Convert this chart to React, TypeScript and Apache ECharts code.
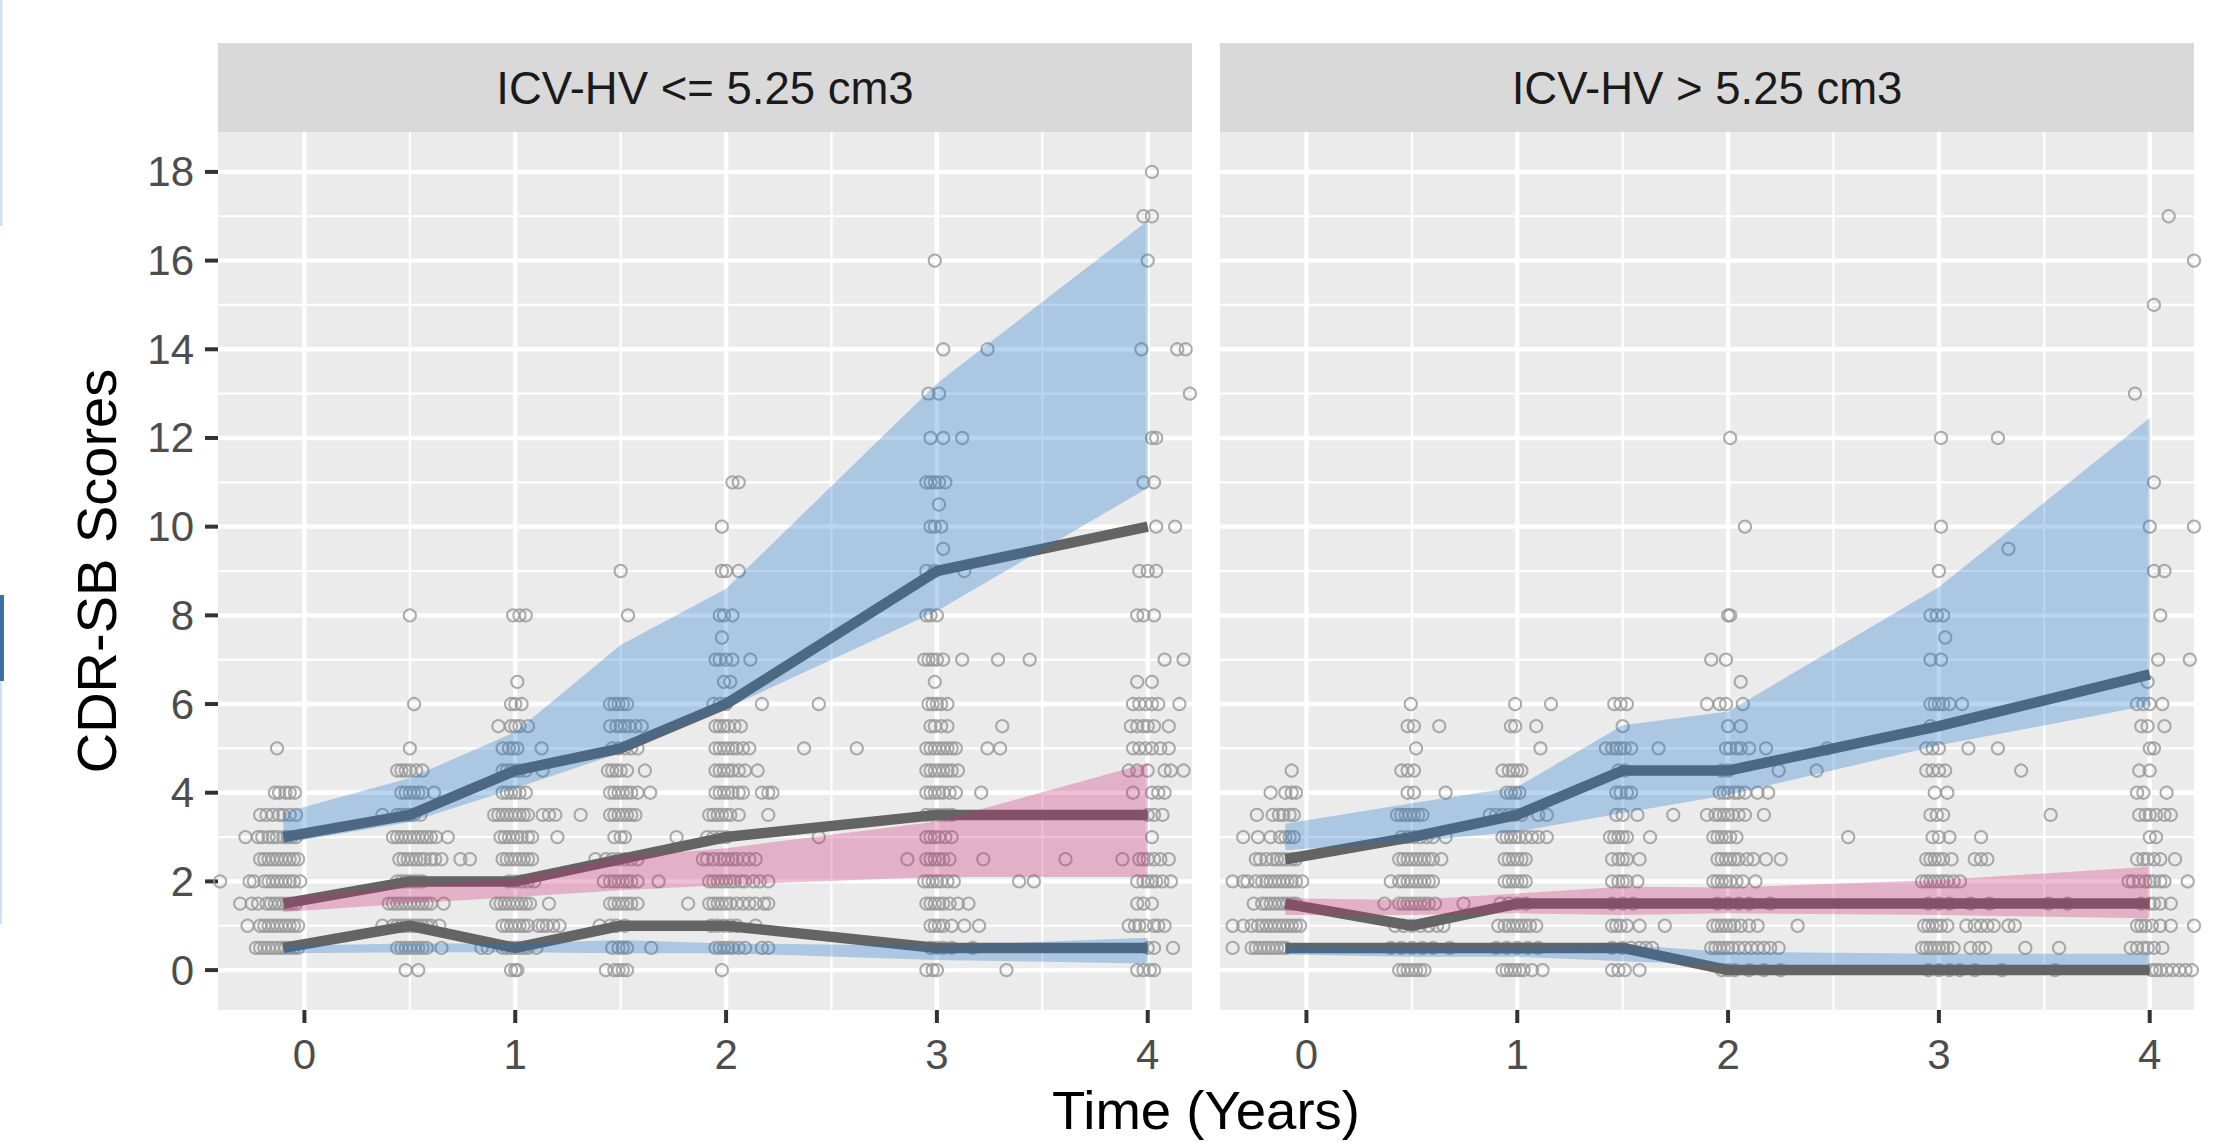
import React, { useEffect, useRef } from 'react';
import * as echarts from 'echarts';

const W = 2219;
const H = 1142;
const FONT = '"Liberation Sans", Arial, Helvetica, sans-serif';

// ---------- axes ----------
const X_MIN = -0.41;
const X_MAX = 4.21;
const Y_MIN = -0.9;
const Y_MAX = 18.9;
const X_TICKS = [0, 1, 2, 3, 4];
const X_MINOR = [0.5, 1.5, 2.5, 3.5];
const Y_TICKS = [0, 2, 4, 6, 8, 10, 12, 14, 16, 18];
const Y_MINOR = [1, 3, 5, 7, 9, 11, 13, 15, 17];

const PANEL_TITLES = ['ICV-HV <= 5.25 cm3', 'ICV-HV > 5.25 cm3'];
const X_TITLE = 'Time (Years)';
const Y_TITLE = 'CDR-SB Scores';

// ---------- median lines & ribbons ----------
const VISIT_X = [-0.1, 0.5, 1, 1.5, 2, 3, 4];

const L_HIGH_MED = [3, 3.5, 4.5, 5, 6, 9, 10];
const L_HIGH_LO = [2.86, 3.34, 4.1, 4.9, 5.9, 8.1, 10.87];
const L_HIGH_HI = [3.55, 4.33, 5.37, 7.33, 8.6, 13.23, 16.9];
const L_MID_MED = [1.5, 2, 2, 2.5, 3, 3.5, 3.5];
const L_MID_LO = [1.31, 1.5, 1.65, 1.8, 1.92, 2.1, 2.1];
const L_MID_HI = [1.62, 1.92, 2.05, 2.55, 2.75, 3.35, 4.67];
const L_LOW_MED = [0.5, 1, 0.5, 1, 1, 0.5, 0.5];
const L_LOW_LO = [0.38, 0.4, 0.4, 0.38, 0.38, 0.23, 0.15];
const L_LOW_HI = [0.55, 0.6, 0.6, 0.68, 0.6, 0.55, 0.73];

const R_HIGH_MED = [2.5, 3, 3.5, 4.5, 4.5, 5.5, 6.67];
const R_HIGH_LO = [2.7, 2.9, 3.12, 3.54, 3.95, 5.07, 5.97];
const R_HIGH_HI = [3.3, 3.76, 4.13, 5.52, 5.83, 8.64, 12.45];
const R_MID_MED = [1.5, 1, 1.5, 1.5, 1.5, 1.5, 1.5];
const R_MID_LO = [1.24, 1.24, 1.28, 1.24, 1.28, 1.24, 1.17];
const R_MID_HI = [1.62, 1.58, 1.73, 1.88, 1.86, 2.03, 2.33];
const R_LOW_MED = [0.5, 0.5, 0.5, 0.5, 0, 0, 0];
const R_LOW_LO = [0.35, 0.3, 0.3, 0.2, 0.11, 0.11, 0.11];
const R_LOW_HI = [0.55, 0.52, 0.52, 0.57, 0.41, 0.37, 0.37];

// ---------- observed scores: [score, [jittered times...]] ----------
type Row = [number, number[]];

const L_PTS: Row[] = [
  // baseline
  [5, [-0.13]],
  [4, [-0.14, -0.12, -0.09, -0.07, -0.045]],
  [3.5, [-0.21, -0.18, -0.15, -0.12, -0.1, -0.07, -0.04]],
  [3, [-0.28, -0.22, -0.2, -0.17, -0.15, -0.13, -0.1, -0.08, -0.06, -0.04]],
  [2.5, [-0.21, -0.19, -0.17, -0.15, -0.13, -0.11, -0.09, -0.07, -0.05, -0.03]],
  [2, [-0.4, -0.26, -0.24, -0.19, -0.17, -0.15, -0.13, -0.11, -0.09, -0.07, -0.05, -0.02]],
  [1.5, [-0.305, -0.25, -0.22, -0.18, -0.16, -0.14, -0.12, -0.1, -0.08, -0.06, -0.04]],
  [1, [-0.27, -0.21, -0.19, -0.17, -0.15, -0.13, -0.11, -0.09, -0.07, -0.05, -0.03]],
  [0.5, [-0.23, -0.21, -0.19, -0.17, -0.15, -0.13, -0.11, -0.09, -0.07, -0.05, -0.03]],
  // 6 months
  [8, [0.5]],
  [6, [0.52]],
  [5, [0.5]],
  [4.5, [0.44, 0.46, 0.48, 0.5, 0.53, 0.56]],
  [4, [0.46, 0.48, 0.5, 0.52, 0.54, 0.56, 0.615]],
  [3.5, [0.37, 0.44, 0.46, 0.48, 0.5, 0.52, 0.55]],
  [3, [0.42, 0.44, 0.46, 0.48, 0.5, 0.52, 0.54, 0.56, 0.58, 0.6, 0.625, 0.68]],
  [2.5, [0.45, 0.47, 0.49, 0.51, 0.53, 0.55, 0.57, 0.6, 0.62, 0.65, 0.74, 0.785]],
  [2, [0.44, 0.46, 0.48, 0.5, 0.52, 0.54, 0.56]],
  [1.5, [0.4, 0.42, 0.44, 0.46, 0.48, 0.5, 0.52, 0.54, 0.56, 0.58, 0.6, 0.66]],
  [1, [0.37, 0.42, 0.44, 0.46, 0.48, 0.5, 0.52, 0.54, 0.56, 0.58, 0.6, 0.64]],
  [0.5, [0.44, 0.46, 0.48, 0.5, 0.52, 0.54, 0.56, 0.58, 0.65]],
  [0, [0.48, 0.54]],
  // 1 year
  [8, [0.99, 1.02, 1.05]],
  [6.5, [1.01]],
  [6, [0.98, 1.0, 1.03]],
  [5.5, [0.92, 0.98, 1.0, 1.02, 1.06]],
  [5, [0.94, 0.97, 0.99, 1.01, 1.125]],
  [4.5, [0.94, 0.96, 0.98, 1.0, 1.02, 1.05, 1.13]],
  [4, [0.94, 0.96, 0.98, 1.0, 1.02, 1.05]],
  [3.5, [0.9, 0.92, 0.94, 0.96, 0.98, 1.0, 1.02, 1.04, 1.06, 1.13, 1.16, 1.19, 1.31]],
  [3, [0.93, 0.95, 0.97, 0.99, 1.01, 1.03, 1.06, 1.08, 1.2]],
  [2.5, [0.94, 0.96, 0.98, 1.0, 1.02, 1.04, 1.06, 1.08]],
  [2, [0.97, 1.0, 1.03, 1.06, 1.09]],
  [1.5, [0.91, 0.93, 0.95, 0.97, 0.99, 1.01, 1.03, 1.05, 1.07, 1.16]],
  [1, [0.94, 0.96, 0.98, 1.0, 1.02, 1.04, 1.06, 1.11, 1.13, 1.15, 1.18, 1.21]],
  [0.5, [0.84, 0.87, 0.94, 0.96, 0.98, 1.0, 1.02, 1.04, 1.06, 1.1]],
  [0, [0.98, 1.0, 1.01]],
  // 18 months
  [9, [1.5]],
  [8, [1.535]],
  [6, [1.45, 1.47, 1.49, 1.51, 1.53]],
  [5.5, [1.45, 1.48, 1.5, 1.52, 1.54, 1.57, 1.6]],
  [5, [1.46, 1.49, 1.52, 1.55, 1.58]],
  [4.5, [1.44, 1.46, 1.48, 1.5, 1.53, 1.615]],
  [4, [1.45, 1.47, 1.49, 1.51, 1.53, 1.55, 1.58, 1.64]],
  [3.5, [1.45, 1.47, 1.49, 1.51, 1.53, 1.55, 1.57]],
  [3, [1.47, 1.5, 1.52, 1.765]],
  [2.5, [1.38, 1.43, 1.46, 1.49, 1.52, 1.55, 1.58]],
  [2, [1.42, 1.45, 1.47, 1.49, 1.51, 1.53, 1.55, 1.58, 1.68]],
  [1.5, [1.45, 1.47, 1.49, 1.51, 1.53, 1.55, 1.58, 1.82]],
  [1, [1.4, 1.45, 1.48, 1.52]],
  [0.5, [1.46, 1.49, 1.51, 1.53, 1.645]],
  [0, [1.43, 1.47, 1.49, 1.51, 1.53]],
  // 2 years
  [11, [2.03, 2.06]],
  [10, [1.98]],
  [9, [1.98, 2.0, 2.06]],
  [8, [1.97, 1.99, 2.03]],
  [7.5, [1.98]],
  [7, [1.95, 1.97, 2.0, 2.03, 2.115]],
  [6.5, [1.99, 2.02]],
  [6, [1.94, 1.97, 2.0, 2.17, 2.44]],
  [5.5, [1.95, 1.97, 1.99, 2.01, 2.04, 2.07]],
  [5, [1.95, 1.97, 1.99, 2.01, 2.03, 2.05, 2.08, 2.11, 2.37, 2.62]],
  [4.5, [1.95, 1.97, 1.99, 2.01, 2.03, 2.06, 2.09, 2.15]],
  [4, [1.95, 1.97, 1.99, 2.01, 2.03, 2.06, 2.08, 2.17, 2.2, 2.22]],
  [3.5, [1.92, 1.94, 1.96, 1.98, 2.0, 2.02, 2.06, 2.2]],
  [3, [1.91, 1.94, 1.97, 2.0, 2.44]],
  [2.5, [1.89, 1.91, 1.94, 1.97, 1.99, 2.01, 2.03, 2.05, 2.08, 2.11, 2.14]],
  [2, [1.92, 1.94, 1.96, 1.98, 2.0, 2.02, 2.04, 2.07, 2.09, 2.13, 2.16, 2.2]],
  [1.5, [1.92, 1.94, 1.96, 1.98, 2.0, 2.02, 2.05, 2.08, 2.11, 2.14, 2.18, 2.2]],
  [1, [1.93, 1.96, 1.99, 2.02, 2.05, 2.14]],
  [0.5, [1.95, 1.97, 1.99, 2.01, 2.03, 2.06, 2.09, 2.17, 2.2]],
  [0, [1.98]],
  // 3 years
  [16, [2.99]],
  [14, [3.03, 3.24]],
  [13, [2.96, 3.01]],
  [12, [2.97, 3.03, 3.12]],
  [11, [2.95, 2.97, 2.99, 3.01, 3.04]],
  [10.5, [3.01]],
  [10, [2.97, 2.99, 3.02]],
  [9.5, [3.03]],
  [9, [2.95, 2.99, 3.13]],
  [8, [2.95, 2.97, 3.0]],
  [7, [2.94, 2.96, 2.98, 3.0, 3.03, 3.12, 3.29, 3.44]],
  [6.5, [2.99]],
  [6, [2.96, 2.98, 3.0, 3.02, 3.05]],
  [5.5, [2.97, 2.99, 3.02, 3.05, 3.31]],
  [5, [2.95, 2.97, 2.99, 3.01, 3.03, 3.05, 3.07, 3.09, 3.24, 3.3]],
  [4.5, [2.95, 2.97, 2.99, 3.01, 3.03, 3.05, 3.07, 3.1]],
  [4, [2.95, 2.97, 2.99, 3.01, 3.03, 3.06, 3.09, 3.21]],
  [3.5, [2.95, 2.98, 3.01, 3.04, 3.07]],
  [3, [2.95, 2.97, 2.99, 3.01, 3.04, 3.07]],
  [2.5, [2.86, 2.95, 2.97, 2.99, 3.01, 3.03, 3.06, 3.22, 3.61, 3.88]],
  [2, [2.94, 2.96, 2.98, 3.0, 3.02, 3.05, 3.08, 3.39, 3.46]],
  [1.5, [2.95, 2.97, 2.99, 3.01, 3.03, 3.06, 3.1, 3.15]],
  [1, [2.97, 2.99, 3.01, 3.03, 3.07, 3.13, 3.2]],
  [0.5, [2.97, 3.0, 3.03, 3.07, 3.17]],
  [0, [2.95, 2.98, 3.0, 3.33]],
  // 4 years
  [18, [4.02]],
  [17, [3.98, 4.02]],
  [16, [4.0]],
  [14, [3.97, 4.14, 4.18]],
  [13, [4.2]],
  [12, [4.02, 4.04]],
  [11, [3.98, 4.03]],
  [10, [4.04, 4.13]],
  [9, [3.96, 4.0, 4.04]],
  [8, [3.95, 3.98, 4.03]],
  [7, [4.08, 4.17]],
  [6.5, [3.95, 4.02]],
  [6, [3.93, 3.96, 3.99, 4.02, 4.05, 4.15]],
  [5.5, [3.92, 3.95, 3.98, 4.0, 4.03, 4.1]],
  [5, [3.93, 3.96, 3.99, 4.02, 4.06, 4.1]],
  [4.5, [3.91, 3.95, 4.0, 4.08, 4.11, 4.17]],
  [4, [3.93, 4.02, 4.05, 4.08]],
  [3.5, [4.0, 4.03, 4.07]],
  [3, [4.02]],
  [2.5, [3.96, 3.98, 4.0, 4.03, 4.06, 4.1]],
  [2, [3.95, 3.98, 4.0, 4.02, 4.04, 4.07, 4.11]],
  [1.5, [3.95, 3.98, 4.02]],
  [1, [3.91, 3.94, 3.96, 3.99, 4.03, 4.05, 4.08]],
  [0.5, [4.0, 4.03, 4.12]],
  [0, [3.95, 3.98, 4.01, 4.03]],
];

const R_PTS: Row[] = [
  // baseline
  [4.5, [-0.07]],
  [4, [-0.17, -0.1, -0.07, -0.05]],
  [3.5, [-0.235, -0.16, -0.13, -0.11, -0.08, -0.06]],
  [3, [-0.3, -0.23, -0.17, -0.125, -0.1, -0.08, -0.06]],
  [2.5, [-0.24, -0.22, -0.19, -0.16, -0.14, -0.12, -0.1, -0.07, -0.05]],
  [2, [-0.35, -0.3, -0.28, -0.24, -0.21, -0.19, -0.17, -0.15, -0.13, -0.11, -0.09, -0.07, -0.05, -0.02]],
  [1.5, [-0.25, -0.21, -0.19, -0.17, -0.15, -0.13, -0.11, -0.09, -0.07, -0.05]],
  [1, [-0.35, -0.3, -0.26, -0.23, -0.21, -0.19, -0.17, -0.15, -0.13, -0.11, -0.09, -0.07, -0.05, -0.03]],
  [0.5, [-0.35, -0.26, -0.24, -0.22, -0.2, -0.18, -0.16, -0.14, -0.12, -0.1]],
  // 6 months
  [6, [0.495]],
  [5.5, [0.48, 0.51, 0.63]],
  [5, [0.52]],
  [4.5, [0.45, 0.48, 0.51]],
  [4, [0.48, 0.51, 0.66]],
  [3.5, [0.43, 0.45, 0.47, 0.49, 0.51, 0.53, 0.55]],
  [3, [0.45, 0.48, 0.51, 0.54, 0.57, 0.6, 0.66]],
  [2.5, [0.44, 0.46, 0.48, 0.5, 0.52, 0.54, 0.56, 0.58, 0.6, 0.64]],
  [2, [0.4, 0.44, 0.46, 0.48, 0.5, 0.52, 0.54, 0.56, 0.58, 0.6]],
  [1.5, [0.37, 0.44, 0.46, 0.48, 0.5, 0.52, 0.54, 0.56, 0.58, 0.61, 0.745]],
  [1, [0.42, 0.46, 0.5, 0.54, 0.58, 0.62, 0.65]],
  [0.5, [0.4, 0.45, 0.5, 0.55, 0.6, 0.68]],
  [0, [0.44, 0.46, 0.48, 0.5, 0.52, 0.54, 0.56]],
  // 1 year
  [6, [0.99, 1.16]],
  [5.5, [0.97, 0.99, 1.09]],
  [5, [1.11]],
  [4.5, [0.93, 0.96, 0.98, 1.0, 1.02]],
  [4, [0.95, 0.97, 0.99, 1.01]],
  [3.5, [0.87, 0.9, 0.93, 0.96, 0.99, 1.02, 1.1, 1.14]],
  [3, [0.93, 0.95, 0.97, 0.99, 1.01, 1.04, 1.07, 1.1, 1.14]],
  [2.5, [0.94, 0.96, 0.98, 1.0, 1.02, 1.04]],
  [2, [0.94, 0.96, 0.98, 1.0, 1.02, 1.04]],
  [1.5, [0.92, 0.96, 1.0, 1.04]],
  [1, [0.91, 0.94, 0.96, 0.98, 1.0, 1.02, 1.04, 1.06, 1.09]],
  [0.5, [0.9, 0.95, 1.0, 1.05, 1.1]],
  [0, [0.93, 0.95, 0.97, 0.99, 1.01, 1.03, 1.07, 1.12]],
  // 18 months
  [6, [1.46, 1.49, 1.52]],
  [5.5, [1.5]],
  [5, [1.42, 1.45, 1.47, 1.49, 1.51, 1.54, 1.67]],
  [4.5, [1.48, 1.51]],
  [4, [1.47, 1.49, 1.52, 1.54]],
  [3.5, [1.47, 1.5, 1.57, 1.74]],
  [3, [1.44, 1.46, 1.48, 1.5, 1.52, 1.63]],
  [2.5, [1.45, 1.48, 1.5, 1.52, 1.58]],
  [2, [1.45, 1.48, 1.5, 1.52, 1.57]],
  [1.5, [1.45, 1.5, 1.55]],
  [1, [1.45, 1.47, 1.49, 1.52, 1.58, 1.7]],
  [0.5, [1.45, 1.5, 1.54, 1.58, 1.61, 1.64]],
  [0, [1.45, 1.48, 1.51, 1.58]],
  // 2 years
  [12, [2.01]],
  [10, [2.08]],
  [8, [2.0, 2.01]],
  [7, [1.92, 1.99]],
  [6.5, [2.06]],
  [6, [1.9, 1.96, 1.99, 2.07]],
  [5.5, [2.0, 2.06]],
  [5, [1.99, 2.01, 2.04, 2.06, 2.1, 2.18, 2.47]],
  [4.5, [1.97, 2.0, 2.24, 2.42]],
  [4, [1.96, 1.98, 2.0, 2.03, 2.05, 2.08, 2.14, 2.19]],
  [3.5, [1.9, 1.94, 1.96, 1.98, 2.0, 2.02, 2.05, 2.08, 2.17]],
  [3, [1.93, 1.95, 1.97, 1.99, 2.01, 2.04, 2.57]],
  [2.5, [1.95, 1.97, 1.99, 2.01, 2.03, 2.05, 2.09, 2.12, 2.18, 2.25]],
  [2, [1.93, 1.95, 1.97, 1.99, 2.01, 2.04, 2.07, 2.13]],
  [1.5, [1.95, 2.0, 2.05, 2.1, 2.2]],
  [1, [1.93, 1.95, 1.97, 1.99, 2.01, 2.03, 2.06, 2.1, 2.14, 2.33]],
  [0.5, [1.92, 1.94, 1.96, 1.98, 2.0, 2.02, 2.05, 2.08, 2.11, 2.14, 2.17, 2.2, 2.24]],
  [0, [1.97, 2.0, 2.03, 2.1, 2.17, 2.25]],
  // 3 years
  [12, [3.01, 3.28]],
  [10, [3.01]],
  [9.5, [3.33]],
  [9, [3.0]],
  [8, [2.96, 2.99, 3.02]],
  [7.5, [3.03]],
  [7, [2.96, 3.01]],
  [6, [2.96, 2.98, 3.0, 3.02, 3.05, 3.11]],
  [5.5, [2.96]],
  [5, [2.94, 2.97, 3.0, 3.14, 3.28]],
  [4.5, [2.94, 2.97, 3.0, 3.03, 3.39]],
  [4, [2.98, 3.04]],
  [3.5, [2.96, 2.99, 3.02, 3.53]],
  [3, [2.97, 3.0, 3.05, 3.2]],
  [2.5, [2.94, 2.96, 2.98, 3.0, 3.02, 3.06, 3.17, 3.2, 3.23]],
  [2, [2.92, 2.94, 2.96, 2.98, 3.0, 3.02, 3.04, 3.07, 3.1]],
  [1.5, [2.95, 3.0, 3.05, 3.15, 3.24, 3.52, 3.61]],
  [1, [2.93, 2.95, 2.97, 2.99, 3.01, 3.04, 3.13, 3.17, 3.2, 3.23, 3.26, 3.33, 3.36]],
  [0.5, [2.92, 2.94, 2.96, 2.98, 3.0, 3.02, 3.04, 3.07, 3.15, 3.19, 3.22, 3.41, 3.57]],
  [0, [2.95, 3.0, 3.05, 3.1, 3.17, 3.3, 3.55]],
  // 4 years
  [17, [4.09]],
  [16, [4.21]],
  [15, [4.02]],
  [13, [3.93]],
  [11, [4.02]],
  [10, [4.0, 4.21]],
  [9, [4.02, 4.07]],
  [8, [4.05]],
  [7, [4.04, 4.19]],
  [6.5, [3.99]],
  [6, [3.94, 3.97, 4.0, 4.06]],
  [5.5, [3.96, 3.99, 4.07]],
  [5, [4.0, 4.02]],
  [4.5, [3.95, 4.0]],
  [4, [3.94, 3.97, 4.08]],
  [3.5, [3.95, 3.98, 4.0, 4.03, 4.07, 4.1]],
  [3, [4.0, 4.03]],
  [2.5, [3.94, 3.97, 3.99, 4.02, 4.05, 4.12]],
  [2, [3.9, 3.92, 3.95, 3.98, 4.0, 4.02, 4.05, 4.07, 4.18]],
  [1.5, [3.96, 4.0, 4.02, 4.05, 4.1]],
  [1, [3.94, 3.96, 3.98, 4.01, 4.05, 4.1, 4.21]],
  [0.5, [3.91, 3.94, 3.97, 3.99, 4.02, 4.06]],
  [0, [4.01, 4.03, 4.05, 4.08, 4.11, 4.14, 4.17, 4.2]],
];

// ---------- styling ----------
const PANEL_BG = '#ebebeb';
const STRIP_BG = '#d9d9d9';
const LINE_COLOR = '#646464';
const POINT_COLOR = '#979797';
const BLUE_FILL = 'rgba(24,116,205,0.3)';
const PINK_FILL = 'rgba(205,40,115,0.3)';

const GRID_TOP = 132;
const GRID_H = 878;
const GRID_W = 974;
const GRID_LEFTS = [218, 1220];
const STRIP_TOP = 43;
const TICK_FONT = 42;

const flatten = (rows: Row[]) =>
  rows.flatMap(([y, xs]) => xs.map((x) => [x, y]));

const gridLineData = [
  ...X_MINOR.map((v) => [0, v, 0]),
  ...Y_MINOR.map((v) => [1, v, 0]),
  ...X_TICKS.map((v) => [0, v, 1]),
  ...Y_TICKS.map((v) => [1, v, 1]),
];

function gridSeries(gi: number) {
  return {
    type: 'custom',
    xAxisIndex: gi,
    yAxisIndex: gi,
    z: 1,
    silent: true,
    clip: false,
    data: gridLineData,
    renderItem: (params: any, api: any) => {
      const kind = api.value(0);
      const v = api.value(1);
      const major = api.value(2);
      const cs = params.coordSys;
      const lw = major ? 4.4 : 2.2;
      if (kind === 0) {
        const px = api.coord([v, Y_MIN])[0];
        return {
          type: 'line',
          shape: { x1: px, y1: cs.y, x2: px, y2: cs.y + cs.height },
          style: { stroke: '#ffffff', lineWidth: lw },
        };
      }
      const py = api.coord([X_MIN, v])[1];
      return {
        type: 'line',
        shape: { x1: cs.x, y1: py, x2: cs.x + cs.width, y2: py },
        style: { stroke: '#ffffff', lineWidth: lw },
      };
    },
  };
}

function tickSeries(gi: number) {
  const data = [
    ...X_TICKS.map((v) => [0, v]),
    ...(gi === 0 ? Y_TICKS.map((v) => [1, v]) : []),
  ];
  return {
    type: 'custom',
    xAxisIndex: gi,
    yAxisIndex: gi,
    z: 1,
    silent: true,
    clip: false,
    data,
    renderItem: (params: any, api: any) => {
      const kind = api.value(0);
      const v = api.value(1);
      const cs = params.coordSys;
      const txtStyle = {
        fill: '#4d4d4d',
        fontSize: TICK_FONT,
        fontFamily: FONT,
      };
      if (kind === 0) {
        const px = api.coord([v, Y_MIN])[0];
        const bottom = cs.y + cs.height;
        return {
          type: 'group',
          children: [
            {
              type: 'line',
              shape: { x1: px, y1: bottom, x2: px, y2: bottom + 13 },
              style: { stroke: '#333333', lineWidth: 4 },
            },
            {
              type: 'text',
              x: px,
              y: bottom + 44,
              style: {
                ...txtStyle,
                text: String(v),
                align: 'center',
                textAlign: 'center',
                verticalAlign: 'middle',
                textVerticalAlign: 'middle',
              },
            },
          ],
        };
      }
      const py = api.coord([X_MIN, v])[1];
      return {
        type: 'group',
        children: [
          {
            type: 'line',
            shape: { x1: cs.x - 13, y1: py, x2: cs.x, y2: py },
            style: { stroke: '#333333', lineWidth: 4 },
          },
          {
            type: 'text',
            x: cs.x - 24,
            y: py,
            style: {
              ...txtStyle,
              text: String(v),
              align: 'right',
              textAlign: 'right',
              verticalAlign: 'middle',
              textVerticalAlign: 'middle',
            },
          },
        ],
      };
    },
  };
}

function lineSeries(gi: number, med: number[]) {
  return {
    type: 'line',
    xAxisIndex: gi,
    yAxisIndex: gi,
    z: 3,
    silent: true,
    symbol: 'none',
    showSymbol: false,
    data: VISIT_X.map((x, i) => [x, med[i]]),
    lineStyle: { color: LINE_COLOR, width: 10.5, cap: 'butt', join: 'round' },
    emphasis: { disabled: true },
  };
}

function ribbonSeries(gi: number, lo: number[], hi: number[], fill: string) {
  return {
    type: 'custom',
    xAxisIndex: gi,
    yAxisIndex: gi,
    z: 4,
    silent: true,
    data: VISIT_X.map((x, i) => [x, lo[i], hi[i]]),
    renderItem: (params: any, api: any) => {
      if (params.dataIndexInside !== 0) return null;
      const n = params.dataInsideLength;
      const top: number[][] = [];
      const bot: number[][] = [];
      for (let i = 0; i < n; i++) {
        const x = api.value(0, i);
        top.push(api.coord([x, api.value(2, i)]));
        bot.push(api.coord([x, api.value(1, i)]));
      }
      return {
        type: 'polygon',
        shape: { points: top.concat(bot.reverse()) },
        style: { fill, stroke: 'none' },
      };
    },
  };
}

function scatterSeries(gi: number, rows: Row[]) {
  return {
    type: 'scatter',
    xAxisIndex: gi,
    yAxisIndex: gi,
    z: 2,
    silent: true,
    symbol: 'circle',
    symbolSize: 12.2,
    data: flatten(rows),
    itemStyle: {
      color: 'rgba(0,0,0,0)',
      borderColor: POINT_COLOR,
      borderWidth: 2,
    },
    emphasis: { disabled: true },
  };
}

export default function App() {
  const ref = useRef<HTMLDivElement>(null);

  useEffect(() => {
    if (!ref.current) return;
    const chart = echarts.init(ref.current, undefined, {
      renderer: 'svg',
      width: W,
      height: H,
    });

    const grids = GRID_LEFTS.map((left) => ({
      left,
      top: GRID_TOP,
      width: GRID_W,
      height: GRID_H,
      show: true,
      backgroundColor: PANEL_BG,
      borderWidth: 0,
    }));

    const xAxes = GRID_LEFTS.map((_, gi) => ({
      gridIndex: gi,
      type: 'value',
      min: X_MIN,
      max: X_MAX,
      show: false,
    }));
    const yAxes = GRID_LEFTS.map((_, gi) => ({
      gridIndex: gi,
      type: 'value',
      min: Y_MIN,
      max: Y_MAX,
      show: false,
    }));

    const panels = [
      {
        pts: L_PTS,
        lines: [L_HIGH_MED, L_MID_MED, L_LOW_MED],
        ribbons: [
          [L_HIGH_LO, L_HIGH_HI, BLUE_FILL],
          [L_MID_LO, L_MID_HI, PINK_FILL],
          [L_LOW_LO, L_LOW_HI, BLUE_FILL],
        ],
      },
      {
        pts: R_PTS,
        lines: [R_HIGH_MED, R_MID_MED, R_LOW_MED],
        ribbons: [
          [R_HIGH_LO, R_HIGH_HI, BLUE_FILL],
          [R_MID_LO, R_MID_HI, PINK_FILL],
          [R_LOW_LO, R_LOW_HI, BLUE_FILL],
        ],
      },
    ];

    const series: any[] = [];
    panels.forEach((p, gi) => {
      series.push(gridSeries(gi));
      series.push(tickSeries(gi));
      series.push(scatterSeries(gi, p.pts));
      p.lines.forEach((m) => series.push(lineSeries(gi, m)));
      p.ribbons.forEach((r) =>
        series.push(ribbonSeries(gi, r[0] as number[], r[1] as number[], r[2] as string))
      );
    });

    const graphics: any[] = [];
    // faint page edge marks at far left
    graphics.push({ type: 'rect', shape: { x: 0, y: 0, width: 2.5, height: 226 }, style: { fill: '#cfe1f2' }, silent: true });
    graphics.push({ type: 'rect', shape: { x: 0, y: 595, width: 4, height: 86 }, style: { fill: '#3d6fa6' }, silent: true });
    graphics.push({ type: 'rect', shape: { x: 0, y: 681, width: 2, height: 243 }, style: { fill: '#cfe1f2' }, silent: true });

    GRID_LEFTS.forEach((left, gi) => {
      graphics.push({
        type: 'rect',
        shape: { x: left, y: STRIP_TOP, width: GRID_W, height: GRID_TOP - STRIP_TOP },
        style: { fill: STRIP_BG },
        silent: true,
      });
      graphics.push({
        type: 'text',
        x: left + GRID_W / 2,
        y: (STRIP_TOP + GRID_TOP) / 2 + 1,
        style: {
          text: PANEL_TITLES[gi],
          fill: '#1a1a1a',
          fontSize: 45.5,
          fontFamily: FONT,
          align: 'center',
          textAlign: 'center',
          verticalAlign: 'middle',
          textVerticalAlign: 'middle',
        },
        silent: true,
      });
    });

    graphics.push({
      type: 'text',
      x: (GRID_LEFTS[0] + GRID_LEFTS[1] + GRID_W) / 2,
      y: 1110.5,
      style: {
        text: X_TITLE,
        fill: '#000000',
        fontSize: 54.5,
        fontFamily: FONT,
        align: 'center',
        textAlign: 'center',
        verticalAlign: 'middle',
        textVerticalAlign: 'middle',
      },
      silent: true,
    });
    graphics.push({
      type: 'text',
      x: 96,
      y: GRID_TOP + GRID_H / 2,
      rotation: Math.PI / 2,
      style: {
        text: Y_TITLE,
        fill: '#000000',
        fontSize: 56,
        fontFamily: FONT,
        align: 'center',
        textAlign: 'center',
        verticalAlign: 'middle',
        textVerticalAlign: 'middle',
      },
      silent: true,
    });

    chart.setOption({
      animation: false,
      backgroundColor: '#ffffff',
      grid: grids,
      xAxis: xAxes,
      yAxis: yAxes,
      series,
      graphic: { elements: graphics },
    });

    return () => chart.dispose();
  }, []);

  return (
    <div
      ref={ref}
      style={{
        position: 'fixed',
        left: 0,
        top: 0,
        width: W,
        height: H,
        background: '#ffffff',
      }}
    />
  );
}
